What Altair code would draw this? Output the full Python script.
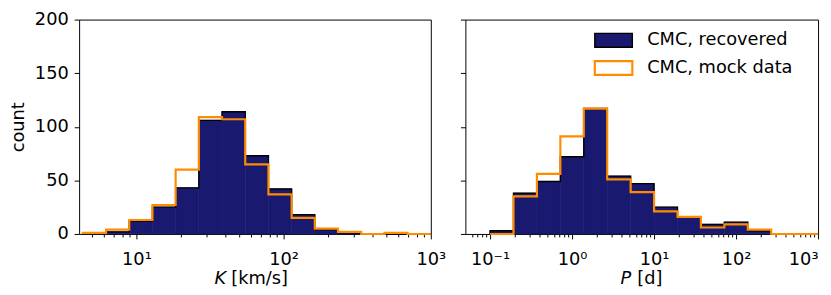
import altair as alt
import numpy as np
import pandas as pd

# ---------------- data ----------------
K_LOG_RANGE = [0.636, 3.0]          # log10 of first / last bin edge (K)
P_LOG_RANGE = [-1.0, 3.0]           # log10 of first / last bin edge (P)

K_recovered = [1, 2, 12, 25, 43, 106, 114, 73, 42, 18, 4, 1, 0, 0, 0]
K_mock      = [1, 4, 13, 27, 60, 109, 107, 65, 37, 15, 5, 2, 0, 1, 0]
P_recovered = [3, 38, 49, 72, 117, 54, 47, 25, 16, 9, 11, 3, 0, 0]
P_mock      = [0, 35, 56, 91, 117, 51, 39, 21, 16, 6, 9, 4, 0, 0]

K_major = [10, 100, 1000]
K_minor = [5, 6, 7, 8, 9, 20, 30, 40, 50, 60, 70, 80, 90, 200, 300, 400, 500, 600, 700, 800, 900]
P_major = [0.1, 1, 10, 100, 1000]
P_minor = [0.06, 0.07, 0.08, 0.09, 0.2, 0.3, 0.4, 0.5, 0.6, 0.7, 0.8, 0.9,
           2, 3, 4, 5, 6, 7, 8, 9, 20, 30, 40, 50, 60, 70, 80, 90,
           200, 300, 400, 500, 600, 700, 800, 900]
K_labels = {10: "10¹", 100: "10²", 1000: "10³"}
P_labels = {0.1: "10⁻¹", 1: "10⁰", 10: "10¹", 100: "10²", 1000: "10³"}

K_domain = [4.08, 1000]
P_domain = [0.05, 1000]
Y_domain = [0, 200]
Y_ticks = [0, 50, 100, 150, 200]

legend_labels = ["CMC, recovered", "CMC, mock data"]

NAVY = "#191970"
ORANGE = "#ff8c00"
FONT = "DejaVu Sans"
FS = 18
H = 217


def bars_df(edges, counts):
    return pd.DataFrame({"x0": edges[:-1], "x1": edges[1:], "c": counts, "z": 0})


def step_df(edges, counts):
    xs, ys = [edges[0]], [0]
    for i, c in enumerate(counts):
        xs += [edges[i], edges[i + 1]]
        ys += [c, c]
    xs.append(edges[-1])
    ys.append(0)
    return pd.DataFrame({"x": xs, "c": ys, "i": list(range(len(xs)))})


def label_expr(labels):
    expr = "''"
    for v, s in labels.items():
        expr = f"abs(datum.value - {v}) < {v}*1e-6 ? '{s}' : ({expr})"
    return expr


def panel(edges, rec, mock, domain, major, minor, labels, title_parts, width,
          show_ylabels, legend, flush):
    xs = alt.Scale(type="log", domain=domain, nice=False)
    ys = alt.Scale(domain=Y_domain, nice=False)
    major_axis = alt.Axis(values=major, labelExpr=label_expr(labels), tickSize=5,
                          labelPadding=12, labelFlush=flush, labelOverlap=False,
                          title=None, orient="bottom")
    minor_axis = alt.Axis(values=minor, labels=False, tickSize=3, title=None,
                          orient="bottom")
    yaxis = alt.Axis(values=Y_ticks, labels=show_ylabels, tickSize=5, labelPadding=6,
                     labelFlush=False, labelOverlap=False,
                     title="count" if show_ylabels else None, titlePadding=7)

    bars = alt.Chart(bars_df(edges, rec)).mark_rect(
        color=NAVY, stroke=NAVY, strokeWidth=0.6).encode(
        x=alt.X("x0:Q", scale=xs, axis=major_axis), x2="x1",
        y=alt.Y("c:Q", scale=ys, axis=yaxis), y2="z")
    black = alt.Chart(step_df(edges, rec)).mark_line(color="black", strokeWidth=1.4).encode(
        x=alt.X("x:Q", scale=xs, axis=minor_axis),
        y=alt.Y("c:Q", scale=ys, axis=None), order="i:Q")
    orange = alt.Chart(step_df(edges, mock)).mark_line(color=ORANGE, strokeWidth=2.2).encode(
        x=alt.X("x:Q", scale=xs, axis=None),
        y=alt.Y("c:Q", scale=ys, axis=None), order="i:Q")

    # x-axis title: italic symbol + upright unit
    ty = H + 51
    t1 = alt.Chart(pd.DataFrame({"t": [title_parts[0]]})).mark_text(
        font=FONT, fontSize=FS, fontStyle="italic", align="left", baseline="alphabetic",
        color="black").encode(x=alt.value(title_parts[2]), y=alt.value(ty), text="t:N")
    t2 = alt.Chart(pd.DataFrame({"t": [title_parts[1]]})).mark_text(
        font=FONT, fontSize=FS, align="left", baseline="alphabetic",
        color="black").encode(x=alt.value(title_parts[2] + title_parts[3]), y=alt.value(ty),
                              text="t:N")
    layers = [bars, black, orange, t1, t2]

    if legend:
        r1 = alt.Chart(pd.DataFrame({"a": [0]})).mark_rect(
            fill=NAVY, stroke="black", strokeWidth=1.4).encode(
            x=alt.value(131), x2=alt.value(169), y=alt.value(14), y2=alt.value(28))
        r2 = alt.Chart(pd.DataFrame({"a": [0]})).mark_rect(
            fill="white", stroke=ORANGE, strokeWidth=2.2).encode(
            x=alt.value(131), x2=alt.value(169), y=alt.value(42), y2=alt.value(56))
        l1 = alt.Chart(pd.DataFrame({"t": [legend_labels[0]]})).mark_text(
            font=FONT, fontSize=FS, align="left", baseline="middle", color="black").encode(
            x=alt.value(184), y=alt.value(21), text="t:N")
        l2 = alt.Chart(pd.DataFrame({"t": [legend_labels[1]]})).mark_text(
            font=FONT, fontSize=FS, align="left", baseline="middle", color="black").encode(
            x=alt.value(184), y=alt.value(49), text="t:N")
        layers += [r1, r2, l1, l2]

    return alt.layer(*layers).resolve_axis(x="independent", y="independent").properties(
        width=width, height=H)


K_edges = np.logspace(K_LOG_RANGE[0], K_LOG_RANGE[1], len(K_recovered) + 1)
P_edges = np.logspace(P_LOG_RANGE[0], P_LOG_RANGE[1], len(P_recovered) + 1)

left = panel(K_edges, K_recovered, K_mock, K_domain, K_major, K_minor, K_labels,
             ["K", "[km/s]", 137, 17], 356, True, False, False)
right = panel(P_edges, P_recovered, P_mock, P_domain, P_major, P_minor, P_labels,
              ["P", "[d]", 157, 17], 357, False, True, True)

chart = alt.hconcat(left, right, spacing=35, bounds="flush").properties(
    padding={"left": 1, "top": 0, "right": 0, "bottom": 0}
).configure_view(stroke="black", strokeWidth=1).configure_axis(
    labelFont=FONT, labelFontSize=FS, labelColor="black", titleFont=FONT,
    titleFontSize=FS, titleColor="black", titleFontWeight="normal",
    tickColor="black", tickWidth=1, domain=False, grid=False)

chart.save("out.html", embed_options={"renderer": "svg", "actions": False})
